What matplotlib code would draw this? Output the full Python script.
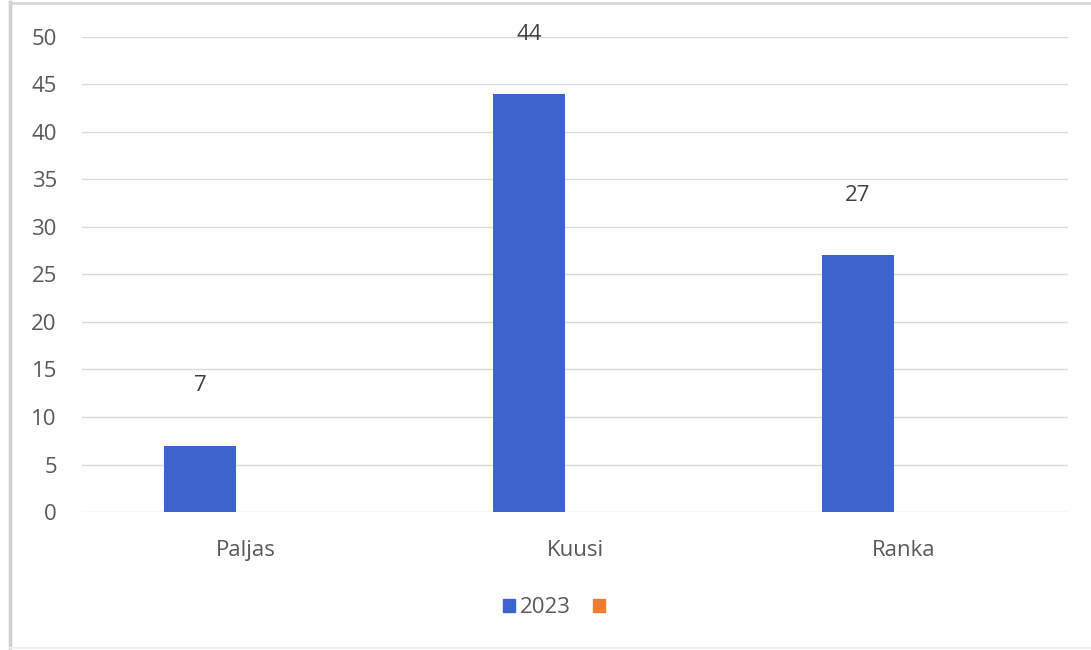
import numpy as np
import matplotlib.pyplot as plt
from matplotlib.lines import Line2D
from matplotlib.patches import Patch

categories = ["Paljas", "Kuusi", "Ranka"]
values_2023 = [7, 44, 27]
series_names = ["2023", ""]

BLUE = "#3B64CC"
ORANGE = "#ED7D31"
TXT = "#595959"

plt.rcParams['font.family'] = ['Open Sans', 'DejaVu Sans']

fig = plt.figure(figsize=(10.91, 6.5), dpi=100)
ax = fig.add_axes([0.075, 0.2123, 0.904, 0.7308])

x = np.arange(len(categories))
w = 0.22
bars = ax.bar(x - 0.14, values_2023, width=w, color=BLUE, zorder=3)
for b, v in zip(bars, values_2023):
    ax.text(b.get_x() + b.get_width() / 2, v + 6.3, str(v),
            ha="center", va="center", fontsize=16, color="#404040")

ax.set_xlim(-0.5, len(categories) - 0.5)
ax.set_ylim(0, 50)
ax.set_yticks(range(0, 51, 5))
ax.set_xticks(x)
ax.set_xticklabels(categories)
ax.grid(axis="y", color="#d9d9d9", linewidth=1, zorder=0)
for s in ax.spines.values():
    s.set_visible(False)
ax.tick_params(axis="both", length=0, labelsize=16, colors=TXT)
ax.tick_params(axis="y", pad=18)
ax.tick_params(axis="x", pad=20)

handles = [Patch(color=BLUE), Patch(color=ORANGE)]
fig.legend(handles, series_names, loc="center", bbox_to_anchor=(0.51, 0.065),
           ncol=2, frameon=False, fontsize=16, handlelength=0.55, handleheight=0.55,
           handletextpad=0.2, columnspacing=1.0, labelcolor=TXT)

# outer chart frame (only left/top visible in the screenshot)
fig.lines.append(Line2D([0.009, 0.009], [0.0, 0.997], transform=fig.transFigure,
                        color="#cfcfcf", linewidth=2.5))
fig.lines.append(Line2D([0.009, 1.0], [0.996, 0.996], transform=fig.transFigure,
                        color="#d6d6d6", linewidth=2))
fig.lines.append(Line2D([0.009, 1.0], [0.003, 0.003], transform=fig.transFigure,
                        color="#eeeeee", linewidth=1.5))

fig.savefig("out.png", dpi=100)
